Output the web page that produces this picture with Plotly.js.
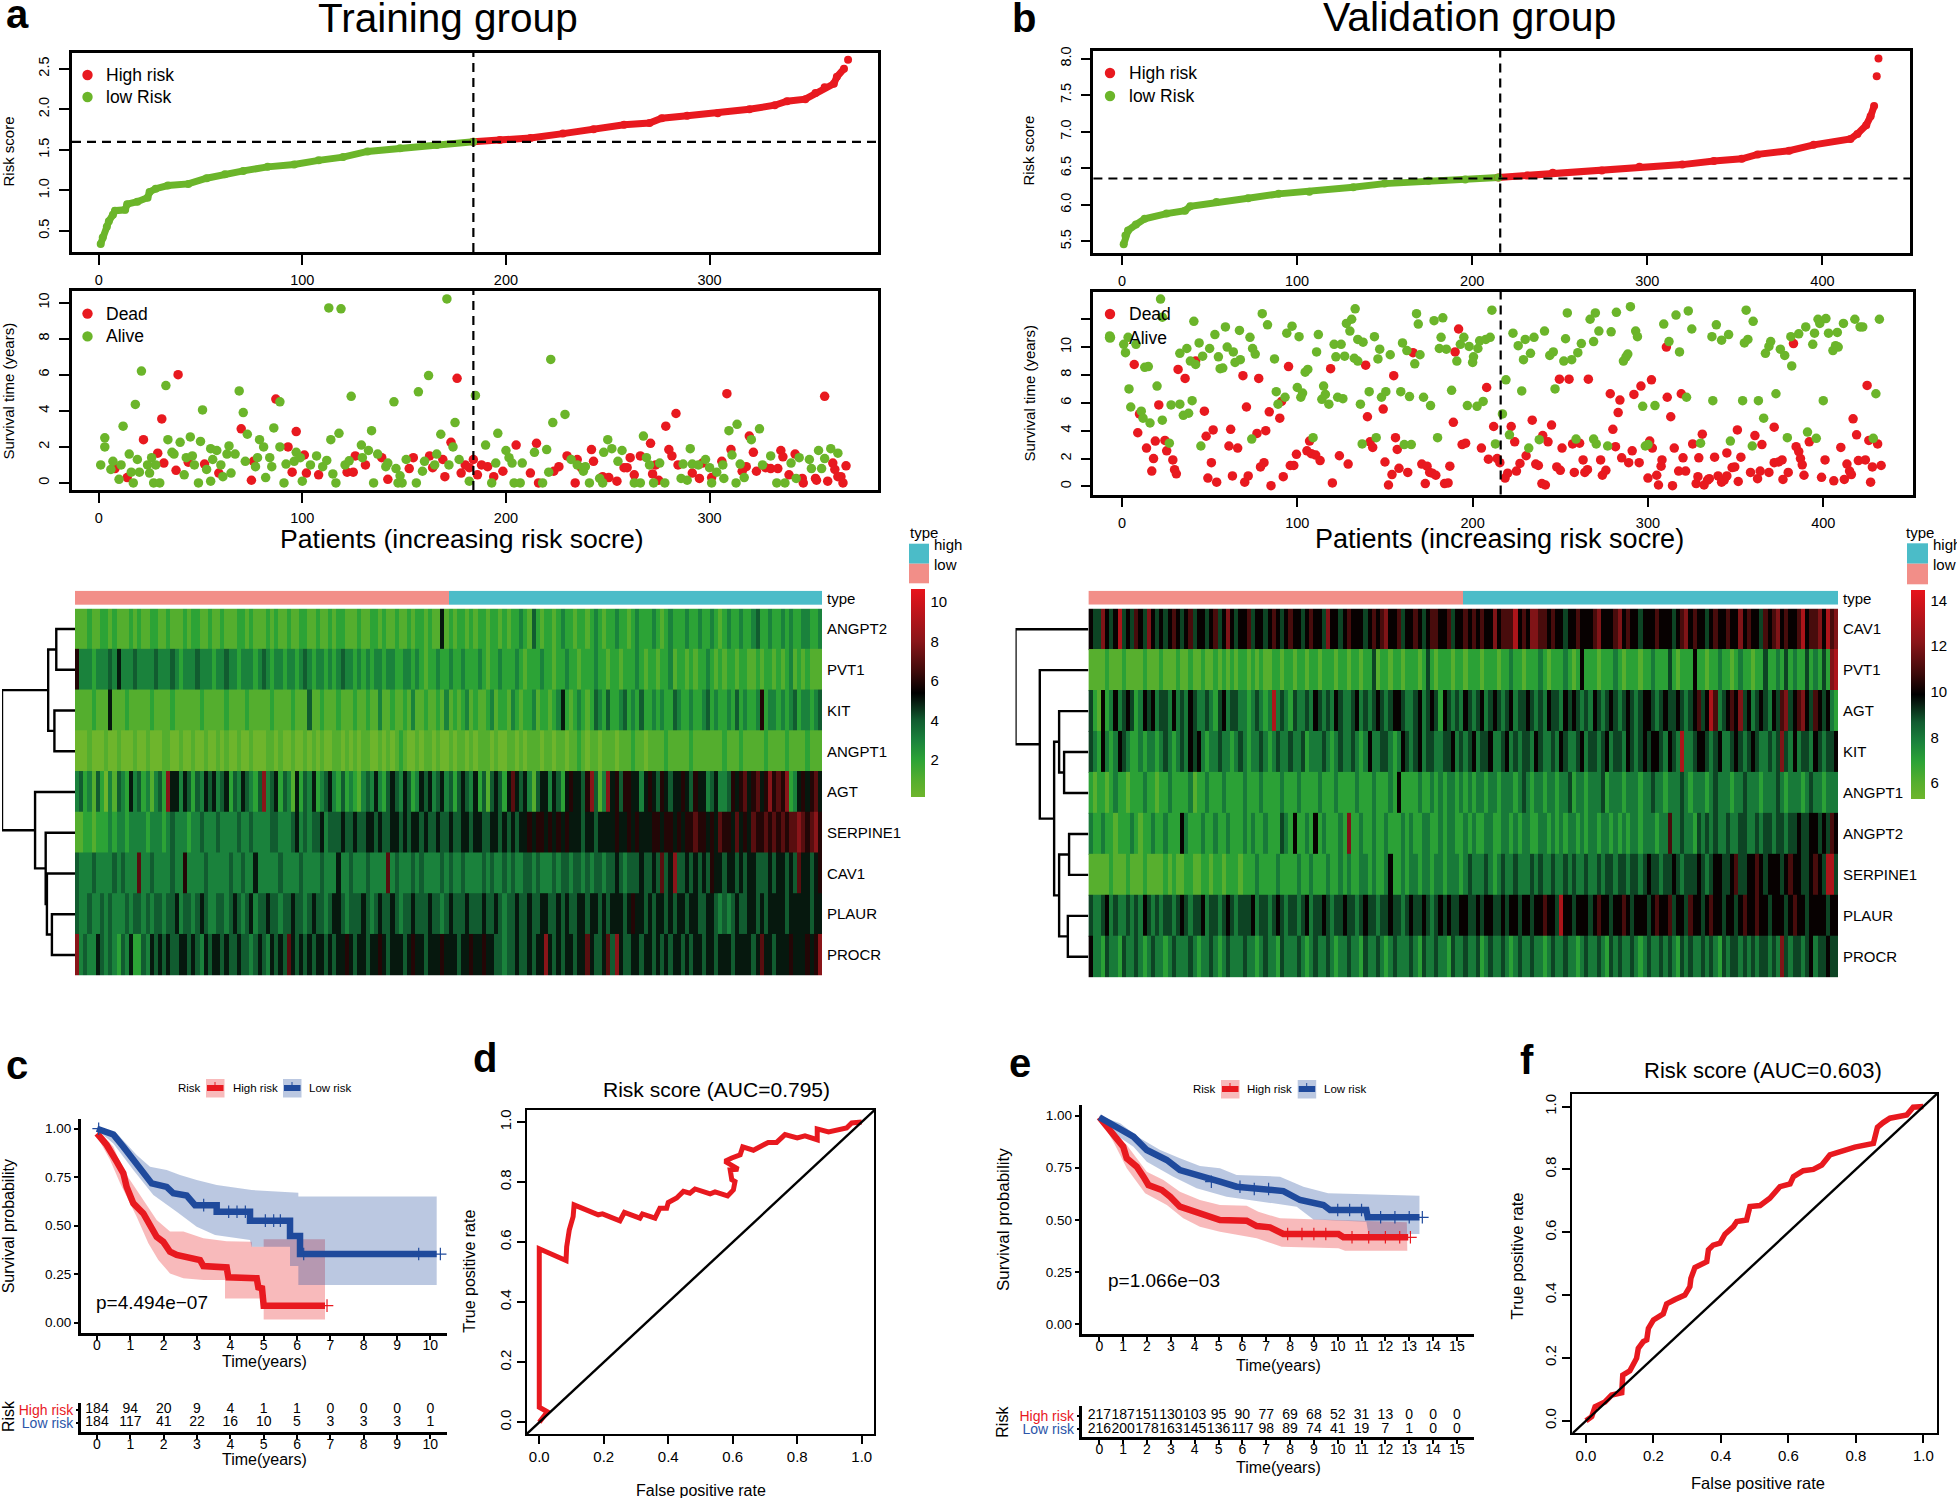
<!DOCTYPE html>
<html><head><meta charset="utf-8">
<script src="https://cdn.plot.ly/plotly-3.0.1.min.js"></script>
<style>html,body{margin:0;padding:0;background:#fff}#chart{width:1957px;height:1498px}</style>
</head><body><div id="chart"></div>
<script>
// ---------- values ----------
const aRiskLow=[[1,.34],[2,.42],[4,.55],[5,.62],[7,.70],[8,.75],[13,.76],[14,.83],[19,.86],[24,.91],[25,.98],[28,1.02],[34,1.06],[44,1.08],[53,1.15],[62,1.2],[71,1.24],[83,1.29],[96,1.32],[108,1.37],[120,1.41],[132,1.48],[148,1.52],[166,1.56],[184,1.6]];
const aRiskHigh=[[184,1.6],[197,1.62],[212,1.645],[228,1.70],[243,1.755],[258,1.81],[270.5,1.83],[276.5,1.89],[289,1.92],[304,1.95],[319.5,2.0],[332,2.05],[338,2.1],[347,2.125],[352,2.2],[356.5,2.27],[361,2.315],[362.5,2.4],[366,2.5]];
const aRiskTop=[[368,2.61]];
const bRiskLow=[[1,5.46],[2,5.58],[3.5,5.65],[8,5.73],[13,5.81],[25.5,5.88],[36,5.92],[39,5.98],[54,6.04],[72,6.09],[89.5,6.15],[107,6.18],[132,6.24],[150,6.29],[175,6.33],[196,6.345],[215,6.375]];
const bRiskHigh=[[215,6.375],[231.5,6.4],[246,6.44],[274,6.47],[295.5,6.52],[320,6.55],[338,6.6],[354,6.63],[363,6.69],[381,6.74],[395,6.82],[416,6.9],[420,6.97],[425,7.09],[427.5,7.21],[429.5,7.35]];
const bRiskTop=[[431,7.76],[432,8.0]];
const aAlive=[[1,1],[3,2],[3,2.5],[6,.75],[7,1.2],[12,3.15],[10,.2],[11,1],[15,1.6],[16,.6],[17,0],[18,4.35],[19,1.3],[20,.6],[21,6.2],[24,1],[25,.55],[26,1.4],[27,0],[28,1],[30,0],[33,5.4],[34,2.4],[36,1.7],[37,1.6],[40,2.25],[42,.45],[43,1.4],[45,2.55],[46,1.5],[47,1],[49,0],[50,2.3],[51,4.05],[53,.75],[55,1.9],[55,.1],[56,1.3],[58,1.8],[60,1],[61,.35],[63,1.6],[64,2.05],[65,.55],[67,1.6],[69,5.1],[71,3.9],[73,2.7],[72,1.2],[77,.9],[78,1.4],[79,2.4],[81,2],[82,.3],[84,1.4],[85,.9],[86,3.05],[89,2],[89,4.5],[91,0],[92,1.05],[96,1.2],[97,1.7],[100,.1],[99,1.4],[104,1],[107,1.5],[110,.9],[112,1.25],[113,9.7],[114,2.4],[115,.5],[116.5,0],[118,2.75],[119,9.65],[121,1],[123,1.23],[124,4.8],[129,2.1],[129.5,1.4],[132.5,1.8],[134,2.9],[135,0],[137,1.6],[141,.9],[142,1.1],[145,4.5],[146,.8],[147,0],[148,.4],[149,0],[151,1.3],[156,0],[157,5.05],[159,.65],[160,1.2],[162,5.95],[165,1],[166,1.6],[168,2.7],[171,10.2],[172,1],[174,2],[175,3.35],[177,1.3],[182,.1],[185,4.85],[190,2.1],[193,0],[195,1.1],[196,2.75],[200,1.8],[201.5,1.4],[203,1.1],[204,0],[207,0],[208,1.1],[214,1.7],[218,0],[220,1.85],[221,.6],[222,6.85],[223,3.35],[229,3.8],[232,1.3],[235,1],[238,.65],[239,.9],[241,0],[246,.25],[247.5,0],[248,1.7],[250,2.4],[252,1.9],[257,1.8],[255,1.2],[263,0],[266,0],[267.5,2.6],[269,1.4],[270.5,1],[272.5,0],[275.5,1.1],[278,0],[286,.25],[287,1.05],[289,.15],[290.5,1.9],[291.5,1.05],[294.5,1],[298,1.3],[300,.85],[301,0],[303.5,.6],[306.5,1],[307,.25],[309.5,2.9],[311,1.55],[313,0],[313.5,3.25],[315,1.05],[317,.3],[320.5,2.4],[324.5,3],[326,1],[330,1.5],[333,0],[337,0],[340,1.1],[342.5,.25],[344,1.4],[349,1.3],[350,.8],[353.5,1.8],[355,.8],[356.5,1.35],[359.5,1.9],[363,1.65]];
const aDead=[[8,.8],[14,.3],[22,2.4],[29,1.65],[31,3.55],[32,1.1],[39,6],[38,.7],[44,1.15],[52,1.05],[59,.55],[70,3],[75,.15],[76,1.2],[87,4.65],[93,2],[95,.6],[97,2.85],[101,1.55],[102,.55],[108,.45],[122,.6],[125,.6],[126,1.5],[131,1],[139,1.4],[142,.2],[152.5,.8],[154.5,1.4],[162.5,1.5],[164,.85],[169,1.3],[170,.35],[173,2.25],[176,5.8],[178,.55],[180,1],[182,.85],[184,1.3],[186,.45],[188,1],[191,.9],[194,.35],[198.5,.65],[205,2.1],[212,.55],[215,2.2],[216,0],[223.5,.65],[226,.9],[230,1.5],[234,0],[235,1.3],[237,.85],[242,1.85],[243,1.2],[247.5,.35],[250.5,.3],[254.5,.1],[258,.85],[259.5,.85],[261,1.4],[263,.45],[266,1.5],[271,2.2],[272,.5],[273.5,1],[275,.15],[278.5,3.15],[280,1.85],[281.5,1.5],[283.5,3.85],[284.5,1],[291.5,.55],[295,.25],[296.5,1.1],[301,.3],[306,1.2],[308.5,4.95],[310.5,1.85],[316,.65],[318,.9],[319.5,2.6],[321.5,1.7],[323,.65],[327.5,.85],[330,.8],[333.5,.8],[335,1.8],[336,1.45],[339,.45],[342,1.6],[345.5,.25],[346,0],[352,.25],[352.5,.15],[356.5,4.8],[358,.1],[360.5,1.1],[361.5,.75],[363,.35],[364.5,.35],[365.5,0],[367,.95]];
const bAlive=[[-7,10.8],[1,10.2],[2,9.6],[3.5,10.7],[8,10.2],[4,7],[5,5.7],[11,5.4],[12,4.9],[16,4.55],[13,8.55],[15,8.6],[20,7.2],[22,13.45],[23,12.15],[23,4.75],[27,3.1],[28,5.85],[33,5.9],[33,9.55],[35,5.1],[37,9.9],[38,5.25],[40,6.15],[39,9],[41,11.85],[42,8.75],[44,10.3],[45,2.9],[46,9.35],[50,9.9],[53,10.9],[55,9.3],[56,8.45],[57.5,8.5],[59,11.45],[60,10],[63.5,9.65],[64.5,8.9],[67,11.2],[67.5,9.1],[73,10.7],[74,3.4],[74.5,9.9],[76,9.5],[80,12.4],[83,11.6],[87,9.15],[88,6.8],[89,5.9],[93,6.4],[94,11],[97,11.5],[100,7.1],[101,10.75],[103,6.7],[102,6.4],[104.5,8.2],[106,8.4],[109,3.5],[111,9.65],[112,10.9],[114,6.25],[115,7.2],[116,6.6],[118,5.9],[121,10.2],[122,9.3],[125,10.2],[123,6.4],[126,6.3],[127,9.35],[128,11.7],[130,11.15],[131,12],[132.5,9.2],[133,12.75],[134.5,10.55],[134.5,9],[136,5.9],[137.5,10.35],[137,3.05],[141,6.8],[144,10.75],[145,3.5],[146,9.15],[147,9.85],[148,6.4],[150.5,6.8],[153,9.45],[159,6.8],[160,10.3],[161,3],[162.5,9.75],[164,6.45],[165,3],[167,8.8],[168,12.4],[169,11.65],[170,9.45],[172,6.4],[176,5.8],[178,11.9],[180,3.5],[181,9.9],[182,10.7],[183,12.1],[185,9.85],[188,6.9],[191,9],[193,10.2],[195,10.7],[197,5.8],[198,10.05],[200,8.9],[200.5,9.3],[202.5,5.75],[203,9.9],[204,10.45],[206,6.1],[207.5,10.55],[210,10.7],[211,12.65],[213,3.05],[217,5.2],[219,7.65],[221,3.7],[223,11],[226,10.1],[228,6.85],[229,9.1],[230,10.55],[232,2.75],[233,9.55],[235,10.7],[238,3.35],[241,11.15],[244,9.4],[246,9.65],[247,7],[252,9],[253,10.6],[254,12.45],[256.5,9.1],[259,3.4],[260,9.6],[262,10.25],[267,12],[269,3.4],[269,10.4],[270,12.45],[270.5,3.05],[272,11.15],[277,2.9],[279,11.1],[282,12.5],[286,9],[287.5,9.3],[288.5,9.5],[290,12.9],[293,11.15],[294,10.75],[297,5.75],[298.5,2.9],[300,3],[304,5.8],[309,11.65],[312,10.4],[316,12.3],[318,9.65],[322,6.4],[323,12.6],[325,11.3],[330,3.1],[336.5,10.75],[337,6.15],[339,11.6],[342,10.5],[346,10.9],[347,3.25],[354,6.15],[355,10.3],[357,10.55],[356,12.65],[359.5,2.9],[360,11.85],[363,6.15],[366,4.9],[367,9.55],[369,10.05],[370,10.4],[373,6.65],[375.5,9.85],[378,9.4],[379.5,3.5],[381.5,10.75],[382,8.65],[386,10.95],[390,11.45],[391,3.9],[394,10.2],[395,11],[396,3.45],[397,12],[398,11.7],[400,6.15],[401.5,12.05],[403,11],[405.5,9.75],[407,10.1],[408.5,10],[408,11.05],[411.5,11.7],[418,12],[421,11.45],[422.5,11.45],[428.5,3.45],[430,6.65],[432,12]];
const bDead=[[7,8.75],[9,3.85],[10,5.2],[14,2.75],[17,1.1],[18,2],[19,3.25],[21,5.85],[24.5,3.3],[25.5,2.55],[29,1.9],[30,1.2],[31,.9],[32,8.4],[36,7.75],[42,9],[47,5.4],[48,3.6],[49,.6],[51,1.7],[52,4.05],[54,.3],[61,2.9],[62,4.1],[63,.75],[66,2.75],[69,7.95],[70,.3],[71,5.7],[72,.75],[77,3.8],[78,7.75],[79,1.4],[81,1.7],[82,4],[84,5.35],[85,.05],[90,4.9],[91,6.1],[92,.7],[95,8.6],[96,1.5],[98,1.5],[99.5,2.3],[105.5,2.55],[107,3.25],[108,2.35],[110.5,2.25],[113,1.85],[119,8.45],[120,.25],[124,2.2],[129,1.6],[139,8.7],[140,5],[141.5,3.2],[143,2.8],[149,5.55],[150,1.75],[152,.1],[154,.85],[155,7.95],[156,3.5],[157,2.65],[158,1.3],[163,1],[166,9.6],[171,1.6],[173,.2],[174,1.45],[175.5,1],[177,.95],[179,.8],[184,.2],[186,.25],[187,1.45],[189,4.6],[190,9.65],[192,11.3],[194,3],[196,3.1],[205,2.75],[208,7.1],[209,1.95],[212,4.3],[214,2],[215.5,1.7],[218.5,.6],[220,.95],[222,4.3],[224,3.2],[225,1.1],[227,1.65],[230.5,2.2],[234,4.75],[236,1.6],[237.5,1.5],[239.5,.2],[240,3.65],[241.5,.1],[243,3.2],[245,4.4],[248,1.4],[249.5,7.7],[250,1.15],[251,2.75],[255,7.7],[257,3.05],[258,1],[261,3.1],[263,1.9],[264,1],[265.5,1.2],[266,7.7],[273,1.9],[274,.8],[276,1.15],[278.5,6.65],[280,4.1],[281.5,2.85],[283,5.3],[284,6.2],[285,2.05],[289,1.7],[291,2.55],[292,6.6],[295,1.7],[296,7.2],[300,.6],[301,3.25],[302,7.65],[302.5,2.75],[305,.8],[306,.1],[307.5,1.45],[308,1.9],[310.5,10],[311,6.4],[313,5],[314,.05],[315,2.75],[317.5,1.1],[319,6.65],[320,2.05],[321.5,1.1],[325.5,3.05],[327.5,.2],[328.5,.7],[329,2.05],[331,3.75],[332,.1],[334,.45],[335,.55],[338,2.1],[340,.75],[342,.3],[343.5,.45],[345,2.4],[345,.75],[348,1.35],[349.5,1.4],[351,4.05],[351.5,.35],[353,2.1],[358.5,1],[361,3.65],[362.5,.55],[364,1.1],[365,3],[369,1],[372,4.25],[372,1.7],[374.5,1.75],[376.5,1.9],[377,.5],[380,1],[383,10.25],[384.5,2.85],[386,2.5],[387,2],[388,1.55],[389,.8],[392,3.2],[399,.65],[401,1.9],[406,.4],[410,2.8],[412,.5],[413.5,1.6],[415,1.1],[416,.85],[417,4.85],[419,3.7],[420,1.85],[424,1.9],[425,7.25],[426,3.3],[427,.3],[428,1.4],[431,3.05],[433,1.5]];

const aGenes=["ANGPT2","PVT1","KIT","ANGPT1","AGT","SERPINE1","CAV1","PLAUR","PROCR"];
const aANGPT2=[1,1,1,2,1,1,2,2,1,2,1,1,1,2,1,2,1,1,2,2,1,1,2,1,1,1,2,1,2,2,1,1,2,1,1,2,1,1,1,2,2,1,2,1,1,1,2,1,2,1,1,2,1,1,2,2,1,1,2,1,1,2,1,2,2,1,1,1,2,1,1,2,2,1,2,1,1,2,1,1,2,1,2,2,1,2,1,1,5,1,2,1,2,2,1,2,1,2,2,1,2,2,1,2,1,2,2,3,2,1,4,2,1,2,2,1,2,3,2,2,1,2,2,1,2,3,2,1,2,2,3,2,2,1,2,3,2,2,2,3,2,1,2,3,2,2,2,3,2,2,3,2,2,3,2,1,2,3,2,2,3,2,2,3,4,2,2,3,2,2,3,2,3,2,2,3,3,2,2,3];
const aPVT1=[6,3,3,3,2,3,3,3,4,3,5,3,3,3,4,3,3,3,3,4,3,3,3,4,3,2,3,3,3,4,3,3,3,2,3,3,4,3,3,2,3,3,3,2,3,4,3,2,3,3,2,3,3,2,3,4,3,2,3,3,2,3,2,3,4,3,3,2,3,2,3,2,3,3,2,3,3,2,2,3,3,2,3,2,1,2,2,3,2,2,3,2,2,3,2,2,2,3,2,1,2,2,3,2,2,2,3,2,1,2,2,2,3,2,2,1,2,2,3,2,2,1,2,2,2,3,2,2,1,2,2,1,2,2,2,3,2,1,2,2,1,2,2,3,1,2,2,1,2,1,2,2,3,2,1,2,1,2,2,1,2,2,1,1,2,1,2,2,1,2,1,2,3,1,2,1,2,1,1,1];
const aKIT=[1,1,1,1,2,1,1,1,5,1,1,1,2,1,1,1,1,1,2,1,1,1,1,2,1,1,1,1,1,1,2,1,1,1,1,1,2,1,1,1,1,2,1,1,1,1,1,2,1,1,1,1,2,1,1,1,4,1,1,2,1,1,1,2,1,1,1,2,1,1,2,1,1,3,1,1,2,1,1,2,1,3,1,1,2,1,1,2,1,3,1,2,1,2,3,1,2,1,1,2,3,1,2,2,1,3,2,1,2,2,3,1,2,2,1,2,3,5,2,1,2,3,2,1,2,4,3,2,4,2,2,3,4,2,3,2,4,2,2,3,2,3,2,2,4,3,2,2,3,2,2,3,4,2,3,2,2,3,2,4,2,3,2,2,3,6,2,3,3,2,3,2,3,4,2,3,3,2,3,4];
const aANGPT1=[0,0,0,1,0,0,0,1,0,0,1,0,0,0,1,0,0,1,0,0,0,1,1,0,0,1,0,0,1,0,0,1,0,0,1,0,1,0,0,1,0,0,1,0,0,0,1,1,0,1,0,0,1,0,0,1,0,1,0,1,0,0,1,1,0,1,0,1,0,1,1,0,0,1,0,1,0,1,2,1,0,0,1,0,1,1,0,1,0,0,1,0,1,1,0,1,0,1,1,1,0,1,0,0,1,1,0,1,0,1,1,1,0,1,1,0,1,1,0,1,1,2,1,0,1,1,0,1,1,1,0,1,1,1,2,1,1,0,1,1,1,1,2,1,1,1,1,1,2,1,1,1,1,1,1,1,2,1,1,1,2,1,1,1,1,1,2,1,1,1,1,2,1,1,1,1,2,1,1,1];
const aAGT=[3,4,2,3,1,4,2,0,3,1,4,3,2,5,3,4,2,3,1,3,4,2,8,5,5,3,5,4,2,4,3,5,4,5,3,4,5,2,4,3,5,4,3,2,4,8,3,4,5,2,4,3,1,5,2,4,3,5,2,3,4,5,3,2,4,2,3,2,1,3,4,3,5,3,2,4,5,4,3,5,4,2,3,5,4,5,3,4,5,3,4,2,4,5,4,3,5,2,4,1,4,5,4,2,5,7,5,4,5,3,1,4,5,5,3,5,4,2,5,6,5,5,4,6,8,4,1,3,8,5,6,4,6,6,5,5,3,5,6,5,4,6,5,4,5,5,6,5,4,6,5,5,3,4,5,3,3,4,6,5,6,7,5,6,7,5,6,8,6,7,6,8,2,3,5,6,5,6,7,5];
const aSERPINE1=[1,1,2,2,1,2,2,2,3,2,3,3,2,3,3,3,3,2,3,3,3,2,3,4,3,3,3,2,3,3,4,3,3,3,4,3,3,3,3,4,3,3,4,3,3,3,3,4,4,3,3,3,4,5,3,4,3,4,4,5,3,4,4,4,5,4,4,5,4,4,5,5,4,5,4,4,5,5,4,5,4,5,5,4,5,4,4,5,4,4,5,4,4,5,5,4,5,5,4,4,5,5,4,5,4,5,4,5,5,6,5,6,6,5,6,5,6,5,6,5,5,5,4,5,5,4,5,5,5,5,6,5,5,6,5,6,5,5,5,6,6,5,6,6,5,6,5,6,6,7,6,6,5,6,5,7,6,6,5,7,5,6,5,7,6,6,7,6,7,6,7,6,7,7,8,7,6,7,8,6];
const aCAV1=[4,3,3,3,4,3,3,3,3,4,3,4,3,3,3,7,3,3,4,3,3,3,3,4,3,3,6,3,3,3,3,4,3,3,3,3,3,4,3,3,4,3,3,5,3,3,3,3,3,4,3,3,3,3,4,3,3,3,3,4,3,3,3,5,3,3,4,3,3,3,4,3,3,3,3,7,3,4,3,3,3,4,3,4,3,3,3,3,4,3,4,3,3,4,3,3,3,3,4,3,4,3,3,4,3,4,3,3,4,4,3,4,3,3,3,4,3,4,4,3,4,4,3,4,3,4,4,3,4,4,5,4,3,4,4,4,5,4,4,5,4,7,4,5,8,4,4,5,4,5,4,5,4,6,5,5,4,5,5,4,5,4,5,5,4,4,4,5,4,5,5,4,5,4,7,5,5,4,5,6];
const aPLAUR=[4,3,3,4,3,3,4,3,4,3,3,3,4,3,4,4,3,4,3,4,4,3,4,4,5,3,4,4,3,4,5,4,3,3,4,4,3,4,5,4,3,4,5,3,4,4,5,4,4,3,4,4,5,4,4,3,4,5,4,4,3,4,5,5,4,3,4,4,4,5,4,3,4,5,4,4,5,4,3,4,4,5,4,4,4,5,4,4,3,4,5,4,4,4,5,4,4,4,5,4,4,5,4,3,4,4,5,4,4,5,4,4,5,5,4,4,5,4,5,4,4,5,5,4,5,5,4,5,4,5,5,5,4,5,6,5,5,4,5,4,5,5,4,5,4,5,5,4,5,5,4,4,5,5,4,3,4,3,4,5,4,4,5,5,4,5,4,5,5,5,5,4,5,5,5,5,5,4,5,5];
const aPROCR=[8,3,4,3,3,5,4,3,4,3,2,4,3,5,2,2,4,3,5,4,5,4,5,4,4,5,5,4,5,4,3,5,4,5,5,4,5,4,4,5,4,4,3,4,5,4,3,5,4,5,4,7,5,4,5,4,5,4,5,5,4,5,4,5,5,6,5,4,5,5,4,5,5,6,5,4,5,5,5,4,5,6,5,5,4,5,5,5,6,5,5,5,4,5,5,6,5,5,6,5,5,4,4,3,4,4,5,4,4,5,4,5,5,8,5,4,5,4,5,5,4,5,5,7,5,4,4,5,7,4,8,5,4,4,5,5,4,5,5,4,5,4,5,4,5,5,4,5,4,5,5,4,5,5,4,5,5,5,4,5,5,5,5,4,5,7,5,5,4,5,5,5,6,5,5,5,6,5,6,8];
const bGenes=["CAV1","PVT1","AGT","KIT","ANGPT1","ANGPT2","SERPINE1","PLAUR","PROCR"];
const bCAV1=[10,9,9,12,10,9,10,13,9,10,9,11,10,9,12,10,9,10,9,10,11,10,9,10,11,9,10,10,9,10,11,9,10,12,10,9,10,10,11,9,10,10,9,10,11,10,9,10,11,10,10,9,10,11,10,10,9,12,10,10,9,10,11,10,10,10,9,10,11,10,11,12,10,10,11,9,10,10,11,10,9,10,11,11,10,10,11,9,10,10,11,10,11,10,11,10,10,12,10,11,11,11,13,10,11,10,12,12,11,11,10,11,10,10,9,10,10,11,10,10,10,11,12,10,10,10,11,12,10,11,10,10,9,10,10,10,11,10,10,10,9,10,11,12,10,11,10,10,9,10,11,10,10,11,10,10,12,10,11,10,10,9,11,10,11,12,10,11,10,10,11,13,10,11,11,12,10,13,11,12];
const bPVT1=[6,6,6,6,7,6,6,6,7,6,6,6,6,7,6,6,6,7,6,6,6,7,6,6,7,6,6,7,6,6,7,6,7,6,7,6,7,7,6,7,6,7,6,6,7,7,6,7,7,6,7,7,6,7,7,6,7,7,7,6,7,7,6,7,7,6,7,7,9,6,7,7,6,7,7,6,7,7,7,6,7,9,7,6,7,7,7,6,7,7,6,7,7,7,6,7,7,7,6,7,7,8,7,7,6,7,7,7,8,7,6,7,7,7,8,7,6,7,10,7,7,7,6,7,7,7,8,7,6,7,7,7,6,7,7,8,7,7,7,9,7,6,7,7,7,10,7,7,6,7,7,8,7,7,6,7,8,7,7,6,7,7,9,7,7,8,7,9,7,8,7,7,9,7,8,7,9,7,12,13];
const bAGT=[9,7,6,10,7,8,10,8,9,10,9,7,8,10,9,10,8,9,9,8,10,8,9,8,10,9,8,8,9,8,7,9,10,8,9,9,8,8,7,8,9,8,7,8,13,8,9,8,7,9,8,8,9,8,10,9,8,9,8,10,9,8,8,9,10,8,9,8,9,10,9,8,9,10,10,9,8,8,9,10,8,9,10,9,7,10,9,8,9,8,10,9,8,9,10,8,9,10,9,8,9,10,8,9,9,10,9,8,9,8,10,9,9,8,10,9,10,9,8,9,8,10,9,8,9,10,9,8,9,10,9,8,9,10,10,9,8,9,10,9,9,10,9,8,9,10,11,9,10,13,11,8,9,10,11,10,12,9,10,8,9,10,9,8,10,9,11,12,9,10,11,12,10,9,11,10,9,10,8,7];
const bKIT=[9,8,7,10,8,7,8,10,9,8,7,7,8,7,8,8,7,8,9,8,7,8,9,8,10,9,10,8,7,8,8,9,8,8,7,8,9,8,7,8,8,9,8,7,8,9,8,8,9,8,8,9,7,8,8,8,9,8,7,8,9,8,8,9,8,7,8,10,8,8,9,9,8,7,8,10,9,8,9,10,8,9,9,8,8,9,9,10,8,9,8,9,10,8,9,9,10,8,8,9,10,8,9,8,9,9,8,10,9,8,8,9,8,10,9,8,8,9,10,8,9,9,8,9,10,8,9,9,8,10,9,8,9,10,9,10,10,9,8,10,9,8,13,8,8,9,10,10,9,8,9,10,8,8,9,10,9,8,9,10,9,8,8,9,8,9,12,9,8,10,8,9,9,8,10,9,8,9,9,10];
const bANGPT1=[7,6,7,7,6,7,8,7,7,6,7,7,7,8,7,7,6,7,7,8,7,7,7,7,8,6,7,7,8,7,7,7,8,7,7,7,7,8,7,7,7,8,7,7,7,7,8,7,7,7,8,7,7,7,7,8,7,7,7,8,7,7,7,7,8,7,7,7,8,7,7,7,8,7,10,7,7,7,7,8,7,7,8,7,8,7,8,8,7,8,7,8,7,8,8,7,8,8,7,8,8,8,7,8,9,8,7,8,8,7,8,8,7,8,8,9,7,8,8,7,8,8,8,9,7,8,8,8,7,8,8,8,7,8,8,9,8,8,7,8,8,8,9,8,7,8,8,8,7,8,9,8,8,8,7,8,8,9,8,8,8,7,8,8,8,9,8,7,8,8,8,7,8,9,8,8,7,8,8,8];
const bANGPT2=[8,7,7,8,7,7,6,7,7,7,8,7,6,7,7,8,7,7,8,7,7,7,10,8,7,7,7,8,7,7,8,7,7,8,7,7,7,8,7,8,7,7,8,7,7,7,9,8,7,10,7,7,8,7,10,7,8,7,7,7,8,7,12,7,7,8,7,7,8,7,7,8,7,7,7,8,7,8,7,7,8,8,7,7,8,7,8,8,7,7,8,7,8,7,7,8,8,7,7,8,8,7,8,7,8,8,7,7,8,8,7,8,7,8,7,8,8,7,8,7,8,8,7,8,8,7,8,7,8,7,8,8,7,8,8,8,7,8,8,11,8,8,9,8,8,7,9,8,9,8,9,8,8,9,8,8,9,9,8,8,9,8,9,9,8,9,9,8,9,9,10,9,9,10,10,9,10,9,11,10];
const bSERPINE1=[6,6,6,6,6,7,6,6,6,7,6,6,6,7,6,6,6,6,7,6,7,6,6,7,7,6,6,7,7,6,7,7,6,7,7,7,6,7,7,7,8,7,7,7,7,8,7,7,7,7,8,7,7,8,7,7,7,8,7,7,8,7,8,7,7,8,8,7,8,7,7,8,10,7,7,8,7,8,8,7,8,8,7,8,8,7,8,8,8,7,8,9,8,8,8,9,8,7,8,9,8,8,9,8,8,8,9,8,9,8,8,9,8,8,9,8,9,8,8,9,8,8,9,8,9,9,8,9,9,8,9,9,8,9,10,9,9,8,9,9,10,9,8,9,9,9,10,9,8,9,10,10,9,9,10,11,9,9,10,10,11,10,9,10,10,10,9,10,11,10,10,9,9,10,11,10,9,13,13,9];
const bPLAUR=[9,8,8,9,10,8,9,8,8,9,8,9,8,10,9,8,9,8,9,9,8,9,10,9,8,9,9,10,8,9,9,8,9,10,9,8,9,9,9,10,8,9,9,8,9,10,9,8,9,9,8,9,10,8,9,9,10,9,8,9,9,10,9,9,8,9,10,9,9,8,9,9,10,9,9,8,9,10,9,9,10,9,8,9,10,9,10,9,9,10,10,9,9,10,9,10,10,9,9,10,9,10,10,9,10,10,9,10,10,11,10,10,9,13,10,10,9,10,10,10,9,10,11,10,10,9,10,10,11,10,9,10,10,10,9,10,11,10,10,11,9,10,10,9,11,10,10,9,10,11,10,10,9,10,10,9,10,11,10,10,11,10,10,9,10,10,10,9,10,11,10,10,9,10,10,10,10,9,10,10];
const bPROCR=[10,8,8,7,9,8,8,7,9,8,8,9,8,7,8,9,8,8,7,8,9,8,8,8,9,8,7,8,8,9,8,7,8,9,8,8,8,9,8,8,7,8,9,8,8,7,9,8,8,8,9,8,7,8,9,8,8,9,8,7,8,8,9,8,8,7,9,8,8,9,8,7,8,9,8,8,8,9,8,7,9,8,8,9,8,8,7,9,8,8,9,8,8,9,7,8,9,8,8,9,8,7,8,9,8,8,9,8,8,7,8,9,8,8,9,8,8,7,8,9,8,8,9,8,7,9,8,9,8,8,9,8,7,8,9,8,8,9,8,9,8,7,9,8,9,8,8,9,8,9,8,7,9,8,9,9,8,9,8,9,8,9,9,8,9,8,12,9,8,9,9,8,9,10,8,9,9,10,9,9];

const aHeat=[aANGPT2,aPVT1,aKIT,aANGPT1,aAGT,aSERPINE1,aCAV1,aPLAUR,aPROCR];
const bHeat=[bCAV1,bPVT1,bAGT,bKIT,bANGPT1,bANGPT2,bSERPINE1,bPLAUR,bPROCR];
// merges: height, first child row, first child height, second child row, second child height
const aMerges=[[30,0,0,1,0],[33,2,0,3,0],[43,.5,30,2.5,33],[37,7,0,8,0],[45,6,0,7.5,37],[47,5,0,6.75,45],[64,4,0,5.875,47],[117,1.5,43,4.94,64]];
const bMerges=[[39,3,0,4,0],[47,2,0,3.5,39],[31,5,0,6,0],[33,7,0,8,0],[47,5.5,31,7.5,33],[55,2.75,47,6.5,47],[78,1,0,4.625,55],[117,0,0,2.81,78]];

const cHigh=[[0,.976],[.29,.916],[.59,.83],[.71,.8],[.79,.77],[.89,.7],[1.09,.615],[1.39,.563],[1.59,.495],[1.79,.443],[1.99,.417],[2.19,.366],[2.39,.349],[3.09,.323],[3.19,.292],[3.89,.285],[3.94,.234],[4.79,.229],[4.84,.182],[4.95,.177],[5,.088],[6.84,.088]];
const cHighUp=[[0,1],[.49,.907],[.79,.787],[1.19,.684],[1.54,.59],[1.79,.53],[2.19,.47],[2.59,.47],[3.19,.435],[3.89,.42],[4.64,.417],[4.65,.392],[5,.392],[5,.43],[6.84,.43]];
const cHighLo=[[0,.96],[.39,.84],[.69,.72],[.94,.63],[1.19,.546],[1.54,.41],[1.84,.323],[2.19,.254],[2.59,.229],[3.19,.22],[3.84,.22],[3.84,.125],[4.89,.125],[5,.125],[5,.017],[6.84,.017]];
const cLow=[[0,1],[.49,.97],[.79,.907],[1.09,.838],[1.39,.778],[1.64,.718],[2.09,.7],[2.29,.667],[2.69,.655],[2.94,.606],[3.59,.606],[3.59,.572],[4.59,.572],[4.59,.526],[5.79,.526],[5.79,.447],[6.09,.447],[6.09,.354],[10.19,.354]];
const cLowUp=[[0,1],[.59,.976],[1.19,.864],[1.59,.804],[2.09,.787],[2.49,.761],[2.99,.735],[3.59,.71],[4.64,.684],[5.74,.67],[6.04,.67],[6.04,.65],[10.19,.65]];
const cLowLo=[[0,.995],[.49,.924],[1.09,.787],[1.49,.7],[1.69,.658],[2.39,.572],[2.99,.495],[3.54,.452],[4.59,.426],[4.64,.392],[5.79,.392],[5.79,.292],[6.04,.292],[6.04,.194],[10.19,.194]];
const eHigh=[[0,.992],[.45,.923],[1,.851],[1.15,.795],[1.57,.755],[1.85,.707],[2.06,.667],[2.62,.643],[2.97,.611],[3.38,.563],[3.94,.539],[4.5,.515],[5.06,.499],[6.18,.496],[6.6,.47],[7.16,.464],[7.65,.443],[7.72,.432],[10.03,.432],[10.24,.416],[12.96,.416]];
const eHighUp=[[0,1],[.59,.923],[1.15,.859],[1.99,.731],[2.69,.691],[3.38,.635],[4.22,.595],[5.06,.571],[6.18,.568],[6.67,.539],[7.58,.507],[12.9,.488]];
const eHighLo=[[0,.987],[.59,.875],[1.15,.747],[1.92,.627],[2.83,.571],[3.52,.507],[4.22,.467],[5.06,.443],[6.6,.411],[7.65,.371],[10.03,.363],[10.31,.352],[12.92,.352]];
const eLow=[[0,.992],[.59,.955],[1.43,.899],[1.99,.835],[2.83,.787],[3.38,.739],[4.22,.707],[5.06,.683],[5.76,.659],[6.88,.648],[7.72,.638],[8.42,.595],[9.4,.571],[9.68,.547],[11.2,.547],[11.26,.512],[13.43,.512]];
const eLowUp=[[0,1],[.87,.963],[1.71,.891],[2.55,.835],[3.38,.795],[4.22,.758],[5.06,.747],[5.76,.715],[7.58,.707],[8.56,.659],[9.6,.627],[11.29,.622],[13.43,.616]];
const eLowLo=[[0,.982],[.59,.915],[1.43,.851],[1.99,.779],[3.1,.707],[4.08,.651],[5.34,.611],[7.3,.579],[8.28,.563],[8.98,.502],[11.2,.491],[11.29,.432],[13.43,.432]];
const cCensorHigh=[[6.9,.088]];
const cCensorLow=[[.05,1],[3.2,.606],[3.95,.572],[4.2,.572],[4.45,.572],[5.05,.526],[5.3,.526],[5.5,.526],[6.2,.354],[9.65,.354],[10.3,.354]];
const eCensorHigh=[[7.9,.432],[8.5,.432],[9,.432],[9.5,.432],[10.6,.416],[11.3,.416],[12,.416],[12.6,.416],[13.05,.416]];
const eCensorLow=[[4.7,.683],[5.9,.659],[6.5,.648],[7.1,.648],[10,.547],[10.5,.547],[11,.547],[11.8,.512],[12.4,.512],[13,.512],[13.55,.512]];
const cYears=[0,1,2,3,4,5,6,7,8,9,10];
const cAtRiskHigh=[184,94,20,9,4,1,1,0,0,0,0];
const cAtRiskLow=[184,117,41,22,16,10,5,3,3,3,1];
const eYears=[0,1,2,3,4,5,6,7,8,9,10,11,12,13,14,15];
const eAtRiskHigh=[217,187,151,130,103,95,90,77,69,68,52,31,13,0,0,0];
const eAtRiskLow=[216,200,178,163,145,136,117,98,89,74,41,19,7,1,0,0];
const dRoc=[[0,0],[.025,.035],[0,.05],[0,.578],[.083,.539],[.085,.585],[.093,.64],[.105,.685],[.108,.724],[.183,.691],[.196,.694],[.25,.671],[.264,.699],[.312,.68],[.32,.694],[.359,.68],[.374,.713],[.395,.713],[.4,.732],[.426,.747],[.447,.769],[.467,.763],[.483,.777],[.53,.761],[.545,.767],[.584,.754],[.602,.774],[.607,.802],[.597,.808],[.592,.841],[.617,.843],[.589,.858],[.576,.869],[.597,.88],[.623,.891],[.631,.917],[.664,.906],[.71,.932],[.736,.932],[.762,.958],[.8,.947],[.824,.954],[.862,.941],[.862,.977],[.897,.967],[.953,.98],[.969,.997],[1,1]];
const fRoc=[[0,0],[.017,.013],[.027,.045],[.056,.06],[.076,.082],[.106,.089],[.109,.145],[.13,.159],[.15,.199],[.155,.23],[.17,.252],[.18,.257],[.185,.294],[.2,.321],[.229,.34],[.239,.372],[.264,.386],[.293,.4],[.308,.427],[.311,.453],[.323,.488],[.358,.506],[.363,.544],[.377,.559],[.397,.565],[.412,.594],[.437,.618],[.447,.634],[.476,.639],[.486,.682],[.516,.685],[.545,.708],[.575,.745],[.605,.754],[.615,.777],[.644,.796],[.674,.8],[.699,.814],[.723,.846],[.758,.86],[.797,.871],[.852,.883],[.864,.934],[.881,.949],[.901,.963],[.951,.973],[.97,.998],[1,1]];

// ---------- drawing ----------
const W=1957,H=1498,FONT='"Liberation Sans",Arial,sans-serif';
const RED='#e8191f',GREEN='#6bb52a',BLUE='#1f4a9c',PINK='#f28e88',TEAL='#4bbcc8';
const RAMP=[[0,'#6eb52c'],[.083,'#54ae2e'],[.178,'#2ca336'],[.273,'#1a823c'],[.368,'#115c30'],[.463,'#06180e'],[.5,'#000000'],[.6,'#3d0a0a'],[.75,'#8a1519'],[1,'#e8141c']];
const xs=p=>p.map(d=>d[0]),ys=p=>p.map(d=>d[1]);
const data=[],shapes=[],annotations=[];
const layout={width:W,height:H,margin:{l:0,r:0,t:0,b:0,pad:0},paper_bgcolor:'#fff',plot_bgcolor:'rgba(0,0,0,0)',showlegend:false,
  font:{family:FONT,color:'#000',size:14},shapes,annotations};
let nAxes=0;
function axes(xp,yp,xo,yo){nAxes++;const s=nAxes===1?'':nAxes;
  const base={showgrid:false,zeroline:false,ticks:'outside',tickcolor:'#000',linecolor:'#000',showline:true,fixedrange:true};
  layout['xaxis'+s]=Object.assign({},base,{domain:[xp[0]/W,xp[1]/W],anchor:'y'+s},xo);
  layout['yaxis'+s]=Object.assign({},base,{domain:[1-yp[1]/H,1-yp[0]/H],anchor:'x'+s},yo);
  return {xaxis:'x'+s,yaxis:'y'+s};}
function note(text,x,y,size,o={}){annotations.push(Object.assign({text,x:x/W,y:1-y/H,xref:'paper',yref:'paper',showarrow:false,
  xanchor:o.anchor||'center',yanchor:'middle',textangle:o.angle||0,font:{size,color:o.color||'#000',family:FONT},borderpad:0}));}
function rect(x0,x1,y0,y1,fill){shapes.push({type:'rect',xref:'paper',yref:'paper',x0:x0/W,x1:x1/W,y0:1-y1/H,y1:1-y0/H,fillcolor:fill,line:{width:0}});}
function seg(x0,x1,y0,y1,c,w){shapes.push({type:'line',xref:'paper',yref:'paper',x0:x0/W,x1:x1/W,y0:1-y1/H,y1:1-y0/H,line:{color:c,width:w}});}
function keyRow(dotX,textX,y,label,c){const r=5.2;
  shapes.push({type:'circle',xref:'paper',yref:'paper',x0:(dotX-r)/W,x1:(dotX+r)/W,y0:1-(y+r)/H,y1:1-(y-r)/H,fillcolor:c,line:{width:0}});
  note(label,textX,y,17.5,{anchor:'left'});}
const frame=(range,tv,tt,o={})=>Object.assign({range,tickmode:'array',tickvals:tv,ticktext:tt||tv.map(String),mirror:true,linewidth:2.6,ticklen:10,tickwidth:2,tickfont:{size:14.5}},o);

function riskPanel(ax,low,high,top,cutX,cutY){
  [[low,GREEN],[high,RED]].forEach(([p,c])=>data.push(Object.assign({type:'scatter',mode:'lines',x:xs(p),y:ys(p),line:{color:c,width:7},showlegend:false,hoverinfo:'skip'},ax)));
  data.push(Object.assign({type:'scatter',mode:'markers',name:'High risk',x:xs(high.concat(top)),y:ys(high.concat(top)),marker:{color:RED,size:8}},ax));
  data.push(Object.assign({type:'scatter',mode:'markers',name:'low Risk',x:xs(low),y:ys(low),marker:{color:GREEN,size:8}},ax));
  shapes.push({type:'line',xref:ax.xaxis,yref:ax.yaxis+' domain',x0:cutX,x1:cutX,y0:0,y1:1,line:{color:'#000',width:2.2,dash:'9px,6px'}});
  shapes.push({type:'line',xref:ax.xaxis+' domain',yref:ax.yaxis,x0:0,x1:1,y0:cutY,y1:cutY,line:{color:'#000',width:2.2,dash:'9px,6px'}});
}
function survPanel(ax,dead,alive,cutX){
  data.push(Object.assign({type:'scatter',mode:'markers',name:'Dead',x:xs(dead),y:ys(dead),marker:{color:RED,size:9.5}},ax));
  data.push(Object.assign({type:'scatter',mode:'markers',name:'Alive',x:xs(alive),y:ys(alive),marker:{color:GREEN,size:9.5}},ax));
  shapes.push({type:'line',xref:ax.xaxis,yref:ax.yaxis+' domain',x0:cutX,x1:cutX,y0:0,y1:1,line:{color:'#000',width:2.2,dash:'9px,6px'}});
}
function heatPanel(xp,barY,heatY,rows,genes,split,merges,dendX,caName,ca){
  const bar=axes(xp,barY,{visible:false,range:[0,1]},{visible:false,range:[-.5,.5]});
  data.push(Object.assign({type:'heatmap',x:[0,split,1],y:[0],z:[[0,1]],zmin:0,zmax:1,colorscale:[[0,PINK],[1,TEAL]],showscale:false,hoverinfo:'skip'},bar));
  const hm=axes(xp,heatY,{visible:false,range:[0,1]},{range:[8.5,-.5],side:'right',showline:false,ticks:'',ticklen:0,tickmode:'array',tickvals:genes.map((g,i)=>i),ticktext:genes,tickfont:{size:15},ticklabelstandoff:4});
  rows.forEach((r,i)=>{const d=1/r.length;
    data.push(Object.assign({type:'heatmap',z:[r],x0:d/2,dx:d,y0:i,dy:1.03,coloraxis:caName,name:genes[i]},hm));});
  layout[caName]=ca;
  nAxes++;const s=nAxes;
  layout['xaxis'+s]={visible:false,domain:[dendX/W,xp[0]/W],range:[117,0],anchor:hm.yaxis,fixedrange:true};
  const dx=[],dy=[];
  merges.forEach(m=>{dx.push(m[2],m[0],m[0],m[4],null);dy.push(m[1],m[1],m[3],m[3],null);});
  data.push({type:'scatter',mode:'lines',x:dx,y:dy,xaxis:'x'+s,yaxis:hm.yaxis,line:{color:'#000',width:2.4},showlegend:false,hoverinfo:'skip',cliponaxis:false});
}
const colorBar=(x,y0,y1,zmin,zmax,tv)=>({cmin:zmin,cmax:zmax,colorscale:RAMP,colorbar:{x:x/W,xanchor:'left',xref:'paper',y:1-y1/H,yanchor:'bottom',yref:'paper',len:y1-y0,lenmode:'pixels',thickness:14,thicknessmode:'pixels',xpad:0,ypad:0,outlinewidth:0,tickmode:'array',tickvals:tv,ticktext:tv.map(String),ticks:'outside',ticklen:3,tickcolor:'rgba(0,0,0,0)',tickfont:{size:15}}});

function kmPanel(ax,hi,hiU,hiL,lo,loU,loL,cH,cL){
  [[hiL,hiU,'rgba(232,25,31,.3)'],[loL,loU,'rgba(31,74,156,.3)']].forEach(([l,u,c])=>{
    data.push(Object.assign({type:'scatter',mode:'lines',x:xs(l),y:ys(l),line:{width:0},showlegend:false,hoverinfo:'skip'},ax));
    data.push(Object.assign({type:'scatter',mode:'lines',x:xs(u),y:ys(u),line:{width:0},fill:'tonexty',fillcolor:c,showlegend:false,hoverinfo:'skip'},ax));});
  [[hi,RED,'High risk',cH],[lo,BLUE,'Low risk',cL]].forEach(([p,c,n,cs])=>{
    data.push(Object.assign({type:'scatter',mode:'lines',name:n,x:xs(p),y:ys(p),line:{color:c,width:6.5},showlegend:false},ax));
    data.push(Object.assign({type:'scatter',mode:'markers',x:xs(cs),y:ys(cs),marker:{symbol:'cross-thin',size:9,line:{color:c,width:1.2}},showlegend:false,hoverinfo:'skip'},ax));});
}
function kmKey(xR,xH,xB,xL,xRisk,y){note('Risk',xRisk,y,11.5,{anchor:'left'});
  rect(xR,xR+18.5,y-9,y+9.5,'rgba(232,25,31,.3)');seg(xR+1,xR+17.5,y,y,RED,6);seg(xR+9,xR+9,y-6,y,RED,1);note('High risk',xH,y,11.5,{anchor:'left'});
  rect(xB,xB+18.5,y-9,y+9.5,'rgba(31,74,156,.3)');seg(xB+1,xB+17.5,y,y,BLUE,6);seg(xB+9,xB+9,y-6,y,BLUE,1);note('Low risk',xL,y,11.5,{anchor:'left'});}
const kmX=(r,t)=>({range:r,tickmode:'array',tickvals:t,ticktext:t.map(String),linewidth:3,ticklen:4,tickwidth:1.5,tickfont:{size:14},ticklabelstandoff:-7});
const kmY=r=>({range:r,tickmode:'array',tickvals:[0,.25,.5,.75,1],ticktext:['0.00','0.25','0.50','0.75','1.00'],linewidth:3,ticklen:4,tickwidth:1.5,tickfont:{size:13.5}});
function riskTable(ax,yrs,hi,lo){
  [[hi,1],[lo,0]].forEach(([v,r])=>data.push(Object.assign({type:'scatter',mode:'text',x:yrs,y:yrs.map(()=>r),text:v.map(String),textposition:'middle center',textfont:{size:14,color:'#000'},showlegend:false,hoverinfo:'skip',cliponaxis:false},ax)));
}
const tableY=r=>({range:r,tickmode:'array',tickvals:[1,0],ticktext:['<span style="color:#e8191f">High risk</span>','<span style="color:#2b55a8">Low risk</span>'],linewidth:3,ticklen:2,tickwidth:2,tickfont:{size:14}});
function rocPanel(ax,roc,w){
  data.push(Object.assign({type:'scatter',mode:'lines',x:xs(roc),y:ys(roc),line:{color:RED,width:w},showlegend:false},ax));
  data.push(Object.assign({type:'scatter',mode:'lines',x:[-.05,1.05],y:[-.05,1.05],line:{color:'#000',width:2.4},showlegend:false,hoverinfo:'skip'},ax));
}
const t5=[0,.2,.4,.6,.8,1],t5s=t5.map(v=>v.toFixed(1));

// panel a
const a1=axes([72,878],[52.5,252],frame([-13.1,382.7],[0,100,200,300],null,{ticklabelstandoff:3}),frame([.24,2.7],[.5,1,1.5,2,2.5],['0.5','1.0','1.5','2.0','2.5'],{tickangle:-90,ticklabelstandoff:4}));
riskPanel(a1,aRiskLow,aRiskHigh,aRiskTop,184,1.597);
const a2=axes([72,878],[291,490],frame([-13.1,382.7],[0,100,200,300],null,{ticklabelstandoff:3}),frame([-.39,10.64],[0,2,4,6,8,10],null,{tickangle:-90,ticklabelstandoff:4}));
survPanel(a2,aDead,aAlive,184);
keyRow(87.5,105,75,'High risk',RED);keyRow(87.5,105,97,'low Risk',GREEN);
keyRow(87.5,105,313.6,'Dead',RED);keyRow(87.5,105,336.4,'Alive',GREEN);
heatPanel([75,822],[590.7,605],[608.7,975.3],aHeat,aGenes,.4993,aMerges,2,'coloraxis',colorBar(911,589,797,.12,10.66,[2,4,6,8,10]));
// panel b
const b1=axes([1093.4,1910],[50.7,252.5],frame([-16.3,450],[0,100,200,300,400],null,{ticklabelstandoff:3}),frame([5.348,8.108],[5.5,6,6.5,7,7.5,8],['5.5','6.0','6.5','7.0','7.5','8.0'],{tickangle:-90,ticklabelstandoff:4}));
riskPanel(b1,bRiskLow,bRiskHigh,bRiskTop,216,6.36);
const b2=axes([1093.4,1912.7],[291.8,494.6],frame([-16.3,451],[0,100,200,300,400],null,{ticklabelstandoff:3}),frame([-.59,13.97],[0,2,4,6,8,10,12],['0','2','4','6','8','10',''],{tickangle:-90,ticklabelstandoff:4}));
survPanel(b2,bDead,bAlive,216);
keyRow(1110,1127.7,73,'High risk',RED);keyRow(1110,1127.7,96,'low Risk',GREEN);
keyRow(1110,1127.7,314,'Dead',RED);keyRow(1110,1127.7,337.5,'Alive',GREEN);
heatPanel([1088.4,1838],[590.7,604.7],[608.7,977.3],bHeat,bGenes,.4979,bMerges,1015.5,'coloraxis2',colorBar(1911,589.3,798.7,5.32,14.47,[6,8,10,12,14]));
// panel c
const c1=axes([81,446.7],[1119,1332.7],kmX([-.48,10.49],cYears),kmY([-.0515,1.05]));
kmPanel(c1,cHigh,cHighUp,cHighLo,cLow,cLowUp,cLowLo,cCensorHigh,cCensorLow);
const c2=axes([81,446.7],[1402.7,1431.7],kmX([-.48,10.49],cYears),tableY([-.67,1.56]));
riskTable(c2,cYears,cAtRiskHigh,cAtRiskLow);
// panel d
const d1=axes([526.7,874.3],[1110,1434.3],frame([-.039,1.039],t5,t5s,{ticklen:8,tickfont:{size:15},linewidth:2.2}),frame([-.04,1.04],t5,t5s,{ticklen:8,tickfont:{size:15},tickangle:-90,linewidth:2.2}));
rocPanel(d1,dRoc,5);
// panel e
const e1=axes([1081.7,1474.3],[1105,1334],kmX([-.74,15.73],eYears),kmY([-.048,1.051]));
kmPanel(e1,eHigh,eHighUp,eHighLo,eLow,eLowUp,eLowLo,eCensorHigh,eCensorLow);
const e2=axes([1081.7,1474.3],[1406,1436.7],kmX([-.74,15.73],eYears),tableY([-.54,1.71]));
riskTable(e2,eYears,eAtRiskHigh,eAtRiskLow);
// panel f
const f1=axes([1572.3,1937.3],[1094,1433.3],frame([-.0406,1.0415],t5,t5s,{ticklen:8,tickfont:{size:15},linewidth:2.2}),frame([-.04,1.04],t5,t5s,{ticklen:8,tickfont:{size:15},tickangle:-90,linewidth:2.2}));
rocPanel(f1,fRoc,5.5);

// text
const bold=s=>'<b>'+s+'</b>';
[['a',17.5,14],['b',1024,18],['c',17,1065],['d',485,1058],['e',1020,1063],['f',1527,1060]].forEach(l=>note(bold(l[0]),l[1],l[2],40));
note('Training group',447.5,18,40.5);note('Validation group',1469,17,41);
note('Patients (increasing risk socre)',462,539,26.6);note('Patients (increasing risk socre)',1499,539,27);
note('Risk score',7.5,152,15,{angle:-90});note('Survival time (years)',7.5,391,15,{angle:-90});
note('Risk score',1028.6,151,15,{angle:-90});note('Survival time (years)',1028.6,393,15,{angle:-90});
note('type',825.6,598,15,{anchor:'left'});note('type',1842,598,15,{anchor:'left'});
note('type',909,532,15,{anchor:'left'});rect(909,929,543.7,563.7,TEAL);rect(909,929,563.7,583.3,PINK);note('high',933,544,15,{anchor:'left'});note('low',933,564,15,{anchor:'left'});
note('type',1904.6,532,15,{anchor:'left'});rect(1907,1928,543.3,563.7,TEAL);rect(1907,1928,563.7,584.3,PINK);note('high',1932,544,15,{anchor:'left'});note('low',1932,564,15,{anchor:'left'});
kmKey(206,231.5,283,308,177.3,1088);kmKey(1221,1246,1297.7,1323.3,1192,1089);
note('p=4.494e\u221207',95,1302.7,19,{anchor:'left'});note('p=1.066e\u221203',1106.7,1280,19,{anchor:'left'});
note('Survival probability',8.3,1226,16,{angle:-90});note('Survival probability',1003,1220,17,{angle:-90});
note('Time(years)',264,1361.7,16);note('Time(years)',264,1459,16);note('Time(years)',1278,1365,16);note('Time(years)',1278,1467.7,16);
note('Risk',8,1416,16,{angle:-90});note('Risk',1003,1421.7,16,{angle:-90});
note('Risk score (AUC=0.795)',716,1089,21);note('Risk score (AUC=0.603)',1763,1070.7,22);
note('False positive rate',700.7,1490,16);note('True positive rate',470,1271.7,16,{angle:-90});
note('False positive rate',1758,1483,16.5);note('True positive rate',1516.7,1255.7,16.5,{angle:-90});

Plotly.newPlot('chart',data,layout,{displayModeBar:false,responsive:false});
</script></body></html>
